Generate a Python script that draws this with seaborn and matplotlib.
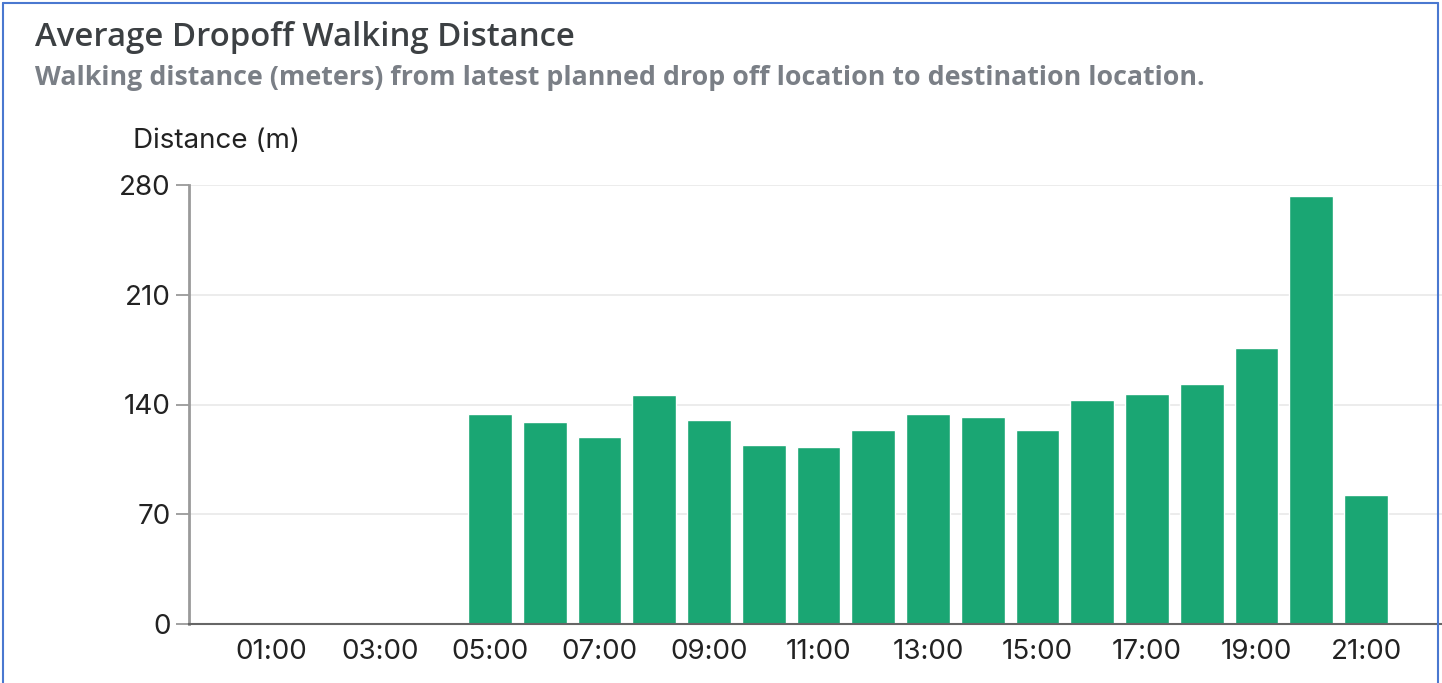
import matplotlib
matplotlib.use("Agg")
import matplotlib.pyplot as plt
from matplotlib.lines import Line2D
import seaborn as sns
import pandas as pd

# ---- data ----
all_hours = ["00:00", "01:00", "02:00", "03:00", "04:00", "05:00", "06:00", "07:00",
             "08:00", "09:00", "10:00", "11:00", "12:00", "13:00", "14:00", "15:00",
             "16:00", "17:00", "18:00", "19:00", "20:00", "21:00", "22:00", "23:00"]
data_hours = ["05:00", "06:00", "07:00", "08:00", "09:00", "10:00", "11:00", "12:00",
              "13:00", "14:00", "15:00", "16:00", "17:00", "18:00", "19:00", "20:00", "21:00"]
distance = [134, 129, 119, 146, 130, 114, 113, 124, 134, 132, 124, 143, 147, 153, 176, 273, 82]
tick_labels = ["01:00", "03:00", "05:00", "07:00", "09:00", "11:00",
               "13:00", "15:00", "17:00", "19:00", "21:00"]
y_ticks = [0, 70, 140, 210, 280]

df = pd.DataFrame({"hour": data_hours, "distance": distance})

sns.set_theme(style="white")
plt.rcParams["font.family"] = ["Inter", "DejaVu Sans"]

W, H = 1442, 683
fig = plt.figure(figsize=(W / 100, H / 100), dpi=100)
ax = fig.add_axes([189 / W, 59 / H, (W - 189) / W, (624 - 185) / H])

sns.barplot(data=df, x="hour", y="distance", order=all_hours, color="#1aa673",
            saturation=1, width=0.8, ax=ax, errorbar=None)

ax.set_yticks(y_ticks)
ax.set_yticklabels([str(v) for v in y_ticks])
ax.set_xticks([all_hours.index(t) for t in tick_labels])
ax.set_xticklabels(tick_labels)
ax.set_xlabel("")
ax.set_ylabel("")
ax.set_ylim(0, 280)
ax.set_xlim(-0.5, (W - 216.25) / 54.75)

ax.yaxis.grid(True, color="#ebebeb", lw=1.3)
ax.set_axisbelow(True)
for s in ["top", "right"]:
    ax.spines[s].set_visible(False)
ax.spines["left"].set_color("#9a9a9a")
ax.spines["left"].set_linewidth(2)
ax.spines["bottom"].set_color("#666666")
ax.spines["bottom"].set_linewidth(1.5)

ax.tick_params(axis="y", length=9.5, width=1.3, color="#9a9a9a", labelsize=20,
               labelcolor="#222222", pad=3.5, left=True)
ax.tick_params(axis="x", length=0, labelsize=20, labelcolor="#222222", pad=11)

fig.text(35 / W, 1 - 46 / H, "Average Dropoff Walking Distance", family=["Open Sans", "DejaVu Sans"],
         fontsize=23.7, fontweight="semibold", color="#3c4043", va="baseline", ha="left")
fig.text(35 / W, 1 - 85 / H,
         "Walking distance (meters) from latest planned drop off location to destination location.",
         family=["Open Sans", "DejaVu Sans"], fontsize=19.3, fontweight="bold", color="#7a7f86",
         va="baseline", ha="left")
fig.text(133 / W, 1 - 148 / H, "Distance (m)", fontsize=20, color="#222222",
         va="baseline", ha="left")

# screenshot frame
border = "#4a78d0"
fig.add_artist(Line2D([3 / W, 3 / W], [0, 1 - 3 / H], color=border, lw=1.5))
fig.add_artist(Line2D([3 / W, 1438 / W], [1 - 3 / H, 1 - 3 / H], color=border, lw=1.5))
fig.add_artist(Line2D([1438 / W, 1438 / W], [0, 1 - 3 / H], color=border, lw=1.5))

fig.savefig("out.png", dpi=100)
